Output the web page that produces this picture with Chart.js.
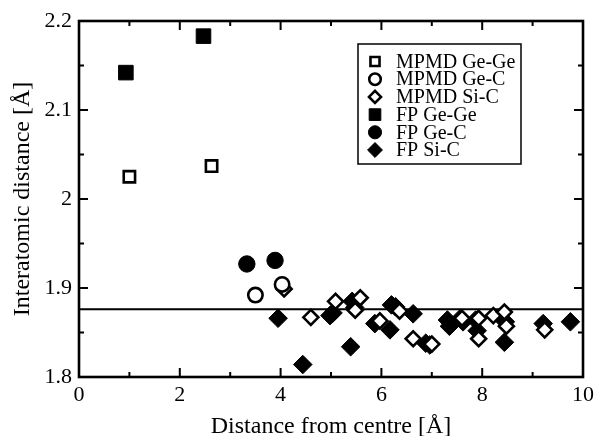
<!DOCTYPE html>
<html>
<head>
<meta charset="utf-8">
<script src="https://cdn.jsdelivr.net/npm/chart.js"></script>
<style>
  html, body { margin: 0; padding: 0; background: #fff; }
  #wrap { width: 599px; height: 436px; }
</style>
</head>
<body>
<div id="wrap"><canvas id="chart" width="599" height="436"></canvas></div>
<script>
// values
const mpmdGeGeX = [1.0, 2.63];
const mpmdGeGeY = [2.025, 2.037];
const fpGeGeX = [0.93, 2.47];
const fpGeGeY = [2.142, 2.183];
const mpmdGeCX = [3.50, 4.03];
const mpmdGeCY = [1.892, 1.904];
const fpGeCX = [3.33, 3.89];
const fpGeCY = [1.927, 1.931];
const mpmdSiCX = [4.07, 4.60, 5.09, 5.48, 5.58, 5.97, 6.36, 6.63, 7.00, 7.60, 7.93, 7.93, 8.22, 8.44, 8.48, 9.24];
const mpmdSiCY = [1.899, 1.867, 1.885, 1.875, 1.889, 1.863, 1.874, 1.843, 1.837, 1.866, 1.843, 1.866, 1.869, 1.873, 1.857, 1.853];
const fpSiCX = [3.95, 4.44, 4.98, 5.04, 5.39, 5.42, 5.47, 5.87, 6.20, 6.28, 6.17, 6.63, 6.88, 6.96, 7.31, 7.35, 7.57, 7.62, 7.87, 7.90, 8.46, 8.44, 9.21, 9.75];
const fpSiCY = [1.866, 1.814, 1.869, 1.872, 1.834, 1.885, 1.878, 1.860, 1.881, 1.879, 1.853, 1.871, 1.838, 1.836, 1.864, 1.857, 1.866, 1.862, 1.864, 1.852, 1.862, 1.839, 1.860, 1.862];
const refLineY = 1.876;

const xTickValues = [0, 2, 4, 6, 8, 10];
const yTickValues = [1.8, 1.9, 2.0, 2.1, 2.2];
const xMinorTicks = [1, 3, 5, 7, 9];
const yMinorTicks = [1.85, 1.95, 2.05, 2.15];

const legendLabels = ["MPMD Ge-Ge", "MPMD Ge-C", "MPMD Si-C", "FP Ge-Ge", "FP Ge-C", "FP Si-C"];

function zip(xs, ys) {
  return xs.map((x, i) => ({ x: x, y: ys[i] }));
}

const FONT = "'Liberation Serif', 'Times New Roman', serif";

function openStyle(shape, r) {
  return { pointStyle: shape, pointRadius: r, pointHoverRadius: r, backgroundColor: "#fff", borderColor: "#000", pointBorderWidth: 2.6, borderWidth: 2.6, showLine: false };
}
function filledStyle(shape, r) {
  return { pointStyle: shape, pointRadius: r, pointHoverRadius: r, backgroundColor: "#000", borderColor: "#000", pointBorderWidth: 1, borderWidth: 1, showLine: false };
}

const datasets = [
  Object.assign({ label: legendLabels[0], data: zip(mpmdGeGeX, mpmdGeGeY) }, openStyle("rect", 8)),
  Object.assign({ label: legendLabels[1], data: zip(mpmdGeCX, mpmdGeCY) }, openStyle("circle", 7.2)),
  Object.assign({ label: legendLabels[2], data: zip(mpmdSiCX, mpmdSiCY) }, openStyle("rectRot", 7.5)),
  Object.assign({ label: legendLabels[3], data: zip(fpGeGeX, fpGeGeY) }, filledStyle("rect", 10.3)),
  Object.assign({ label: legendLabels[4], data: zip(fpGeCX, fpGeCY) }, filledStyle("circle", 8.2)),
  Object.assign({ label: legendLabels[5], data: zip(fpSiCX, fpSiCY) }, filledStyle("rectRot", 9.3)),
  {
    label: "ref",
    type: "line",
    data: [{ x: 0, y: refLineY }, { x: 10, y: refLineY }],
    borderColor: "#000",
    borderWidth: 2,
    pointRadius: 0,
    fill: false,
  },
];

// frame, inward ticks and boxed legend
const framePlugin = {
  id: "frame",
  afterDraw(chart) {
    const ctx = chart.ctx;
    const a = chart.chartArea;
    const xs = chart.scales.x;
    const ys = chart.scales.y;
    ctx.save();
    ctx.strokeStyle = "#000";
    ctx.lineWidth = 2.6;
    ctx.strokeRect(a.left, a.top, a.right - a.left, a.bottom - a.top);

    ctx.lineWidth = 2;
    function vtick(v, len) {
      const px = xs.getPixelForValue(v);
      ctx.beginPath();
      ctx.moveTo(px, a.bottom); ctx.lineTo(px, a.bottom - len);
      ctx.moveTo(px, a.top); ctx.lineTo(px, a.top + len);
      ctx.stroke();
    }
    function htick(v, len) {
      const py = ys.getPixelForValue(v);
      ctx.beginPath();
      ctx.moveTo(a.left, py); ctx.lineTo(a.left + len, py);
      ctx.moveTo(a.right, py); ctx.lineTo(a.right - len, py);
      ctx.stroke();
    }
    xTickValues.forEach((v) => vtick(v, 9));
    xMinorTicks.forEach((v) => vtick(v, 5));
    yTickValues.forEach((v) => htick(v, 9));
    yMinorTicks.forEach((v) => htick(v, 5));

    // legend box
    const bx = 358, by = 44, bw = 163, bh = 120;
    ctx.fillStyle = "#fff";
    ctx.fillRect(bx, by, bw, bh);
    ctx.lineWidth = 1.5;
    ctx.strokeRect(bx, by, bw, bh);
    ctx.font = "20px " + FONT;
    ctx.textBaseline = "middle";
    ctx.textAlign = "left";
    for (let i = 0; i < legendLabels.length; i++) {
      const ds = chart.data.datasets[i];
      const cy = 61.5 + i * 17.7;
      const r = ds.pointRadius * 0.8;
      ctx.fillStyle = ds.backgroundColor;
      ctx.strokeStyle = ds.borderColor;
      ctx.lineWidth = ds.pointBorderWidth;
      Chart.helpers.drawPoint(ctx, { pointStyle: ds.pointStyle, radius: r, rotation: 0, borderWidth: ds.pointBorderWidth }, 375, cy);
      ctx.fillStyle = "#000";
      ctx.fillText(legendLabels[i], 396, cy + 1);
    }
    ctx.restore();
  },
};

new Chart(document.getElementById("chart"), {
  type: "scatter",
  data: { datasets: datasets },
  plugins: [framePlugin],
  options: {
    responsive: false,
    animation: false,
    devicePixelRatio: 1,
    layout: { padding: { top: 21, right: 10, left: 0, bottom: 0 } },
    plugins: { legend: { display: false }, tooltip: { enabled: false } },
    scales: {
      x: {
        type: "linear",
        min: 0,
        max: 10,
        grid: { display: false, drawTicks: false },
        border: { display: false },
        afterBuildTicks: (scale) => { scale.ticks = xTickValues.map((v) => ({ value: v })); },
        afterFit: (scale) => { scale.height = 59; },
        ticks: {
          color: "#000",
          padding: 5,
          maxRotation: 0,
          font: { family: FONT, size: 22 },
          callback: (v) => String(v),
        },
        title: {
          display: true,
          text: "Distance from centre [Å]",
          color: "#000",
          font: { family: FONT, size: 24, lineHeight: 0.8 },
          padding: { top: 0, bottom: 0 },
        },
      },
      y: {
        type: "linear",
        min: 1.8,
        max: 2.2,
        grid: { display: false, drawTicks: false },
        border: { display: false },
        afterBuildTicks: (scale) => { scale.ticks = yTickValues.map((v) => ({ value: v })); },
        afterFit: (scale) => { scale.width = 79; },
        ticks: {
          color: "#000",
          padding: 7,
          font: { family: FONT, size: 22 },
          callback: (v) => String(Math.round(v * 10) / 10),
        },
        title: {
          display: true,
          text: "Interatomic distance [Å]",
          color: "#000",
          font: { family: FONT, size: 24, lineHeight: 1.2 },
          padding: { top: 8, bottom: 0 },
        },
      },
    },
  },
});
</script>
</body>
</html>
